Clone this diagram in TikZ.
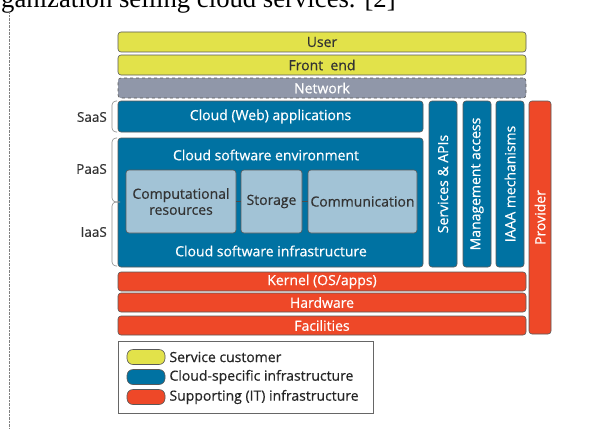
\documentclass[tikz,border=0pt]{standalone}
\usepackage{fontspec}
\setmainfont{Open Sans}[FakeBold=0.5]
\newfontfamily\docfont{Liberation Serif}
\usetikzlibrary{positioning}
\definecolor{custyellow}{HTML}{E2E24A}
\definecolor{cloudblue}{HTML}{0072A2}
\definecolor{itred}{HTML}{EE4828}
\definecolor{netgray}{HTML}{9097A9}
\definecolor{resblue}{HTML}{A2C3D6}
\begin{document}
\begin{tikzpicture}[x=1pt,y=-1pt,
    layer/.style={draw=black!65, line width=0.6pt, rounded corners=3pt, inner sep=0pt, font=\fontsize{14}{16}\selectfont},
    custlayer/.style={layer, fill=custyellow, text=black!80},
    cloudlayer/.style={layer, fill=cloudblue, text=white},
    itlayer/.style={layer, fill=itred, text=white},
    reslayer/.style={layer, fill=resblue, text=black!80, align=center},
    tierlabel/.style={anchor=east, inner sep=0pt, text=black!80, font=\fontsize{13.5}{16}\selectfont},
    brace/.style={black!45, line width=0.6pt, rounded corners=4pt},
    swatch/.style={draw=black!65, line width=0.6pt, rounded corners=6pt, minimum width=38, minimum height=15, inner sep=0pt},
    legendtext/.style={inner sep=1pt, text=black!85, font=\fontsize{14}{16}\selectfont}]
    \clip (0,0) rectangle (604,428);
    \fill[white] (0,0) rectangle (604,428);
    % page remains
    \node[anchor=base west, inner sep=0pt, font=\docfont\fontsize{26.7}{30}\selectfont] (caption) at (1,7.5) {ganization selling cloud services. [2]};
    \draw[black!50, densely dotted, line width=0.4pt] (9,12) -- (9,428);
    % customer side
    \node[custlayer, minimum width=408, minimum height=20] (user) at (322,42) {User};
    \node[custlayer, minimum width=408, minimum height=20] (frontend) at (322,65) {Front\ \ end};
    \node[layer, dashed, fill=netgray, text=white, minimum width=408, minimum height=20] (network) at (322,88) {Network};
    % cloud stack
    \node[cloudlayer, minimum width=305, minimum height=31] (apps) at (270.5,116.5) {Cloud (Web) applications};
    \node[cloudlayer, minimum width=305, minimum height=129] (platform) at (270.5,202.5) {};
    \node[white, inner sep=0pt, font=\fontsize{14}{16}\selectfont] (envlabel) at (266,155) {Cloud software environment};
    \node[white, inner sep=0pt, font=\fontsize{14}{16}\selectfont] (infralabel) at (271,251) {Cloud software infrastructure};
    \node[reslayer, minimum width=110, minimum height=63] (comp) at (181,201.5) {Computational\\resources};
    \node[reslayer, minimum width=61, minimum height=63] (stor) at (271.5,201.5) {Storage};
    \node[reslayer, minimum width=109, minimum height=63] (comm) at (362.5,201.5) {Communication};
    \draw[black!70, line width=0.6pt] (comp) -- (stor);
    \draw[black!70, line width=0.6pt] (stor) -- (comm);
    % side columns
    \node[cloudlayer, rotate=90, minimum width=166, minimum height=28] (apis) at (443,184) {Services \& APIs};
    \node[cloudlayer, rotate=90, minimum width=166, minimum height=28] (mgmt) at (477,184) {Management access};
    \node[cloudlayer, rotate=90, minimum width=166, minimum height=28] (iaaa) at (510,184) {IAAA mechanisms};
    \node[itlayer, rotate=90, minimum width=233, minimum height=22] (provider) at (540,217.5) {Provider};
    % supporting IT
    \node[itlayer, minimum width=408, minimum height=19] (kernel) at (322,281.5) {Kernel (OS/apps)};
    \node[itlayer, minimum width=408, minimum height=19] (hardware) at (322,302.5) {Hardware};
    \node[itlayer, minimum width=408, minimum height=19] (facilities) at (322,325.5) {Facilities};
    % service models
    \node[tierlabel] (saas) at (107,117) {SaaS};
    \node[tierlabel] (paas) at (107,169) {PaaS};
    \node[tierlabel] (iaas) at (107,232) {IaaS};
    \draw[brace] (117,101) -- (112,101) -- (112,132) -- (117,132);
    \draw[brace] (117,138) -- (112,138) -- (112,202) -- (120,202);
    \draw[brace] (120,202) -- (112,202) -- (112,266) -- (117,266);
    % legend
    \node[draw=black!60, line width=0.6pt, minimum width=255, minimum height=72, inner sep=0pt] (legend) at (245.5,377) {};
    \node[swatch, fill=custyellow] (swcust) at (146,357) {};
    \node[swatch, fill=cloudblue] (swcloud) at (146,377) {};
    \node[swatch, fill=itred] (swit) at (146,397) {};
    \node[legendtext, right=3pt of swcust] (lcust) {Service customer};
    \node[legendtext, right=3pt of swcloud] (lcloud) {Cloud-specific infrastructure};
    \node[legendtext, right=3pt of swit] (lit) {Supporting (IT) infrastructure};
\end{tikzpicture}
\end{document}
